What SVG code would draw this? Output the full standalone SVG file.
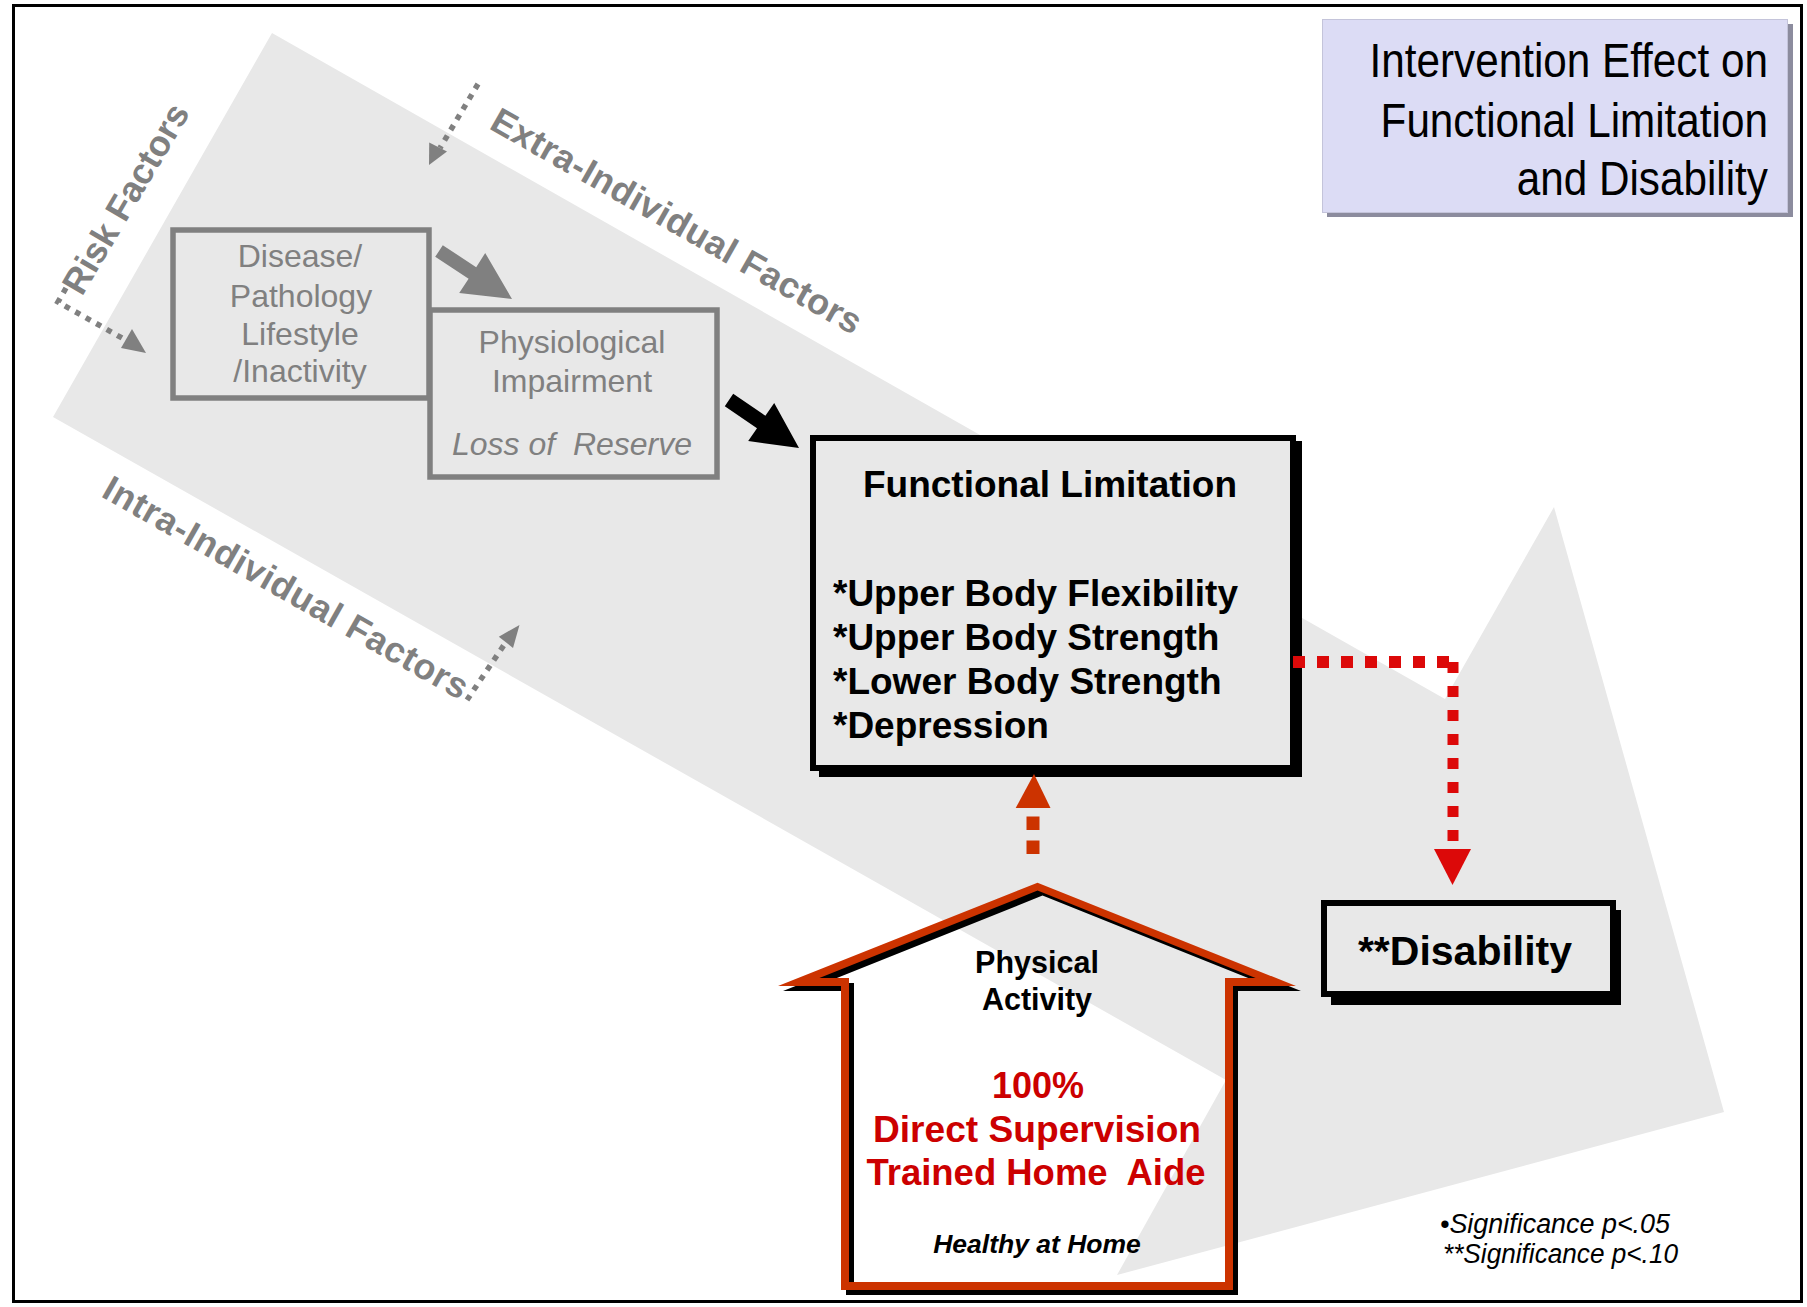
<svg xmlns="http://www.w3.org/2000/svg" width="1807" height="1307" viewBox="0 0 1807 1307">
<style>
text{font-family:"Liberation Sans",Arial,Helvetica,sans-serif}
.gt{fill:#808080;font-size:32px}
.gb{fill:#808080;font-size:36px;font-weight:bold}
.box-g{fill:#e8e8e8;stroke:#808080;stroke-width:5.5}
.box-k{fill:#e8e8e8;stroke:#000;stroke-width:6}
.bk{font-weight:bold;fill:#000}
.rd{font-weight:bold;fill:#cc0000;font-size:36px}
.dotg{fill:none;stroke:#808080;stroke-width:5.5;stroke-dasharray:5.5 6.5}
</style>
<rect x="0" y="0" width="1807" height="1307" fill="#fff"/>
<rect x="13.5" y="5.5" width="1788" height="1296" fill="none" stroke="#000" stroke-width="3"/>

<g id="background-arrow">
<polygon points="272,33 1445,699 1554,507 1724,1112 1117,1275 1226,1080 53,417" fill="#e8e8e8"/>
</g>

<g id="title">
<rect x="1327" y="24" width="466" height="193" fill="#8c8c9e"/>
<rect x="1322.5" y="19.5" width="465" height="193" fill="#dcdcf5" stroke="#c4c4da" stroke-width="1"/>
<g transform="scale(0.88,1)">
<text x="2009" y="77" font-size="48" text-anchor="end">Intervention Effect on</text>
<text x="2009" y="137" font-size="48" text-anchor="end">Functional Limitation</text>
<text x="2009" y="195" font-size="48" text-anchor="end">and Disability</text>
</g>
</g>

<g id="disease-pathology">
<rect class="box-g" x="173" y="230" width="256" height="168"/>
<text class="gt" x="300" y="267" text-anchor="middle">Disease/</text>
<text class="gt" x="301" y="307" text-anchor="middle">Pathology</text>
<text class="gt" x="300" y="345" text-anchor="middle">Lifestyle</text>
<text class="gt" x="300" y="382" text-anchor="middle">/Inactivity</text>
</g>

<g id="physiological-impairment">
<rect class="box-g" x="430" y="310" width="287" height="167"/>
<text class="gt" x="572" y="353" text-anchor="middle">Physiological</text>
<text class="gt" x="572" y="392" text-anchor="middle">Impairment</text>
<text class="gt" x="572" y="455" text-anchor="middle" font-style="italic" xml:space="preserve">Loss of  Reserve</text>
</g>

<g id="functional-limitation">
<rect x="819" y="441" width="483" height="336" fill="#000"/>
<rect class="box-k" x="813" y="438" width="480" height="330"/>
<text class="bk" x="1050" y="497" font-size="37" text-anchor="middle">Functional Limitation</text>
<text class="bk" x="833" y="606" font-size="37">*Upper Body Flexibility</text>
<text class="bk" x="833" y="650" font-size="37">*Upper Body Strength</text>
<text class="bk" x="833" y="694" font-size="37">*Lower Body Strength</text>
<text class="bk" x="833" y="738" font-size="37">*Depression</text>
</g>

<g id="disability">
<rect x="1331" y="910" width="290" height="95" fill="#000"/>
<rect class="box-k" x="1324" y="903" width="289" height="91"/>
<text class="bk" x="1465" y="965" font-size="41" text-anchor="middle">**Disability</text>
</g>

<g id="physical-activity">
<path transform="translate(5,5)" fill="#000" fill-rule="evenodd" d="M1037.5,882.7 L1296,986 L1233,986 L1233,1290 L841,1290 L841,986 L778,986 Z M1037.5,890.6 L819.4,978 L849,978 L849,1282 L1225,1282 L1225,978 L1255.6,978 Z"/>
<path fill="#cc3300" fill-rule="evenodd" d="M1037.5,882.7 L1296,986 L1233,986 L1233,1290 L841,1290 L841,986 L778,986 Z M1037.5,890.6 L819.4,978 L849,978 L849,1282 L1225,1282 L1225,978 L1255.6,978 Z"/>
<text class="bk" x="1037" y="973" font-size="30.5" text-anchor="middle">Physical</text>
<text class="bk" x="1037" y="1010" font-size="30.5" text-anchor="middle">Activity</text>
<text class="rd" x="1038" y="1098" text-anchor="middle">100%</text>
<text class="rd" x="1037" y="1142" text-anchor="middle" textLength="328" lengthAdjust="spacingAndGlyphs">Direct Supervision</text>
<text class="rd" x="1036" y="1185" text-anchor="middle" textLength="339" lengthAdjust="spacingAndGlyphs" xml:space="preserve">Trained Home  Aide</text>
<text class="bk" x="1037" y="1253" font-size="26.5" font-style="italic" text-anchor="middle">Healthy at Home</text>
</g>

<g id="factor-labels">
<text class="gb" transform="translate(82,297) rotate(-59.5)" font-size="36" textLength="214" lengthAdjust="spacingAndGlyphs">Risk Factors</text>
<text class="gb" transform="translate(488,128) rotate(29.6)" textLength="420" lengthAdjust="spacing">Extra-Individual Factors</text>
<text class="gb" transform="translate(100,496) rotate(29.6)" textLength="414" lengthAdjust="spacing">Intra-Individual Factors</text>
</g>

<g id="connectors">
<polygon points="442.8,245.2 476.2,267.2 485.2,253 512,299 459.2,293 468.6,278.8 435.2,256.8" fill="#808080"/>
<polygon points="733.2,393.8 765.4,415.8 774.2,403 799,448 748.2,441 757,428.2 724.8,406.2" fill="#000"/>
<polyline class="dotg" points="66,288 58,302 122,338"/>
<polygon points="146,353 121,348 132,329" fill="#808080"/>
<line class="dotg" x1="478" y1="84" x2="440" y2="148"/>
<polygon points="429,165 429.2,142.4 447,151.6" fill="#808080"/>
<line class="dotg" x1="467" y1="700" x2="506" y2="642"/>
<polygon points="519.5,625 513,648 498.8,636.7" fill="#808080"/>
<line x1="1293" y1="662" x2="1449" y2="662" stroke="#dc0909" stroke-width="12" stroke-dasharray="12 12"/>
<line x1="1453" y1="662" x2="1453" y2="845" stroke="#dc0909" stroke-width="11" stroke-dasharray="11 13"/>
<polygon points="1434,849 1471,849 1452.5,885" fill="#dc0909"/>
<line x1="1033" y1="854" x2="1033" y2="814" stroke="#cc3300" stroke-width="13" stroke-dasharray="13.5 10.5"/>
<polygon points="1015.7,808 1050.5,808 1034,774" fill="#cc3300"/>
</g>

<g id="notes">
<text x="1440" y="1233" font-size="27" font-style="italic" textLength="230" lengthAdjust="spacingAndGlyphs">•Significance p&lt;.05</text>
<text x="1443" y="1263" font-size="27" font-style="italic" textLength="235" lengthAdjust="spacingAndGlyphs">**Significance p&lt;.10</text>
</g>
</svg>
